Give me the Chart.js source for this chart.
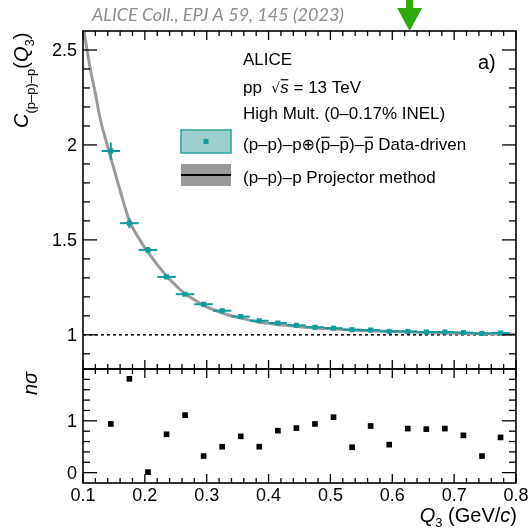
<!DOCTYPE html>
<html>
<head>
<meta charset="utf-8">
<script src="https://cdn.jsdelivr.net/npm/chart.js@4.4.1/dist/chart.umd.min.js"></script>
<style>
  body { margin: 0; background: #fff; }
  #wrap { position: relative; width: 529px; height: 530px; }
  #wrap canvas { position: absolute; left: 0; top: 0; }
</style>
</head>
<body>
<div id="wrap">
  <canvas id="corrChart" width="529" height="530"></canvas>
  <canvas id="sigmaChart" width="529" height="530"></canvas>
</div>
<script>
// bin centres in Q3 (GeV/c)
const q3Bins = [0.145, 0.175, 0.205, 0.235, 0.265, 0.295, 0.325, 0.355, 0.385, 0.415, 0.445,
                0.475, 0.505, 0.535, 0.565, 0.595, 0.625, 0.655, 0.685, 0.715, 0.745, 0.775];
const binHalfWidth = 0.015;
// data-driven correlation function
const corrData = [1.968, 1.588, 1.447, 1.305, 1.214, 1.161, 1.127, 1.096, 1.074, 1.062, 1.050,
                  1.040, 1.035, 1.027, 1.025, 1.018, 1.018, 1.015, 1.015, 1.012, 1.007, 1.010];
const corrErr = [0.045, 0.026, 0.016, 0.012, 0.009, 0.008, 0.007, 0.006, 0.006, 0.005, 0.005,
                 0.005, 0.005, 0.004, 0.004, 0.004, 0.004, 0.004, 0.004, 0.004, 0.004, 0.004];
// projector method curve
const projQ3 = [0.100, 0.1065, 0.113, 0.120, 0.127, 0.133, 0.140, 0.146, 0.160, 0.175, 0.190, 0.205,
                0.220, 0.235, 0.250, 0.265, 0.280, 0.295, 0.325, 0.355, 0.385, 0.415, 0.445, 0.475,
                0.505, 0.550, 0.600, 0.650, 0.700, 0.750, 0.800];
const projCorr = [2.64, 2.50, 2.38, 2.27, 2.15, 2.07, 1.99, 1.92, 1.76, 1.60, 1.51, 1.435,
                  1.37, 1.31, 1.26, 1.215, 1.185, 1.155, 1.115, 1.088, 1.068, 1.054, 1.044, 1.036,
                  1.030, 1.023, 1.017, 1.012, 1.008, 1.005, 1.003];
// deviation in n sigma
const nSigma = [0.94, 1.81, 0.01, 0.74, 1.11, 0.32, 0.50, 0.70, 0.50, 0.81, 0.86,
                0.94, 1.07, 0.49, 0.90, 0.54, 0.85, 0.84, 0.85, 0.72, 0.32, 0.68];
const xTickLabels = ['0.1', '0.2', '0.3', '0.4', '0.5', '0.6', '0.7', '0.8'];
const yTickLabelsTop = ['1', '1.5', '2', '2.5'];
const yTickLabelsBottom = ['0', '1'];
const arrowQ3 = 0.628;

const TEAL = '#129b9b';
const FONT = '"Liberation Sans", Arial, sans-serif';

function fontOf(p) {
  return (p.italic ? 'italic ' : '') + p.size + 'px ' + (p.family || FONT);
}

// draws a row of text pieces (sub/superscripts, overlines)
function richText(ctx, parts, x, y, align) {
  let w = 0;
  parts.forEach(p => { ctx.font = fontOf(p); p.w = ctx.measureText(p.t).width; w += p.w; });
  let cx = align === 'right' ? x - w : x;
  parts.forEach(p => {
    ctx.font = fontOf(p);
    ctx.fillText(p.t, cx, y + (p.dy || 0));
    if (p.bar) {
      ctx.save();
      ctx.lineWidth = 1.2;
      ctx.strokeStyle = ctx.fillStyle;
      ctx.beginPath();
      const by = y + (p.dy || 0) - p.size * p.bar;
      ctx.moveTo(cx + 0.5, by);
      ctx.lineTo(cx + p.w - 0.5, by);
      ctx.stroke();
      ctx.restore();
    }
    cx += p.w;
  });
}

function line(ctx, x1, y1, x2, y2) {
  ctx.beginPath(); ctx.moveTo(x1, y1); ctx.lineTo(x2, y2); ctx.stroke();
}

// ROOT style frame with inward ticks on all sides
function drawFrame(chart, yStep, yMajorEvery, xTop, xBottom) {
  const ctx = chart.ctx, a = chart.chartArea;
  const xs = chart.scales.x, ys = chart.scales.y;
  ctx.save();
  ctx.strokeStyle = '#000';
  ctx.lineWidth = 1.6;
  ctx.strokeRect(a.left, a.top, a.right - a.left, a.bottom - a.top);
  ctx.lineWidth = 1.3;
  for (let i = 0; i <= 35; i++) {
    const v = 0.1 + i * 0.02;
    const major = i % 5 === 0;
    const px = xs.getPixelForValue(v);
    if (xTop) line(ctx, px, a.top, px, a.top + (major ? 9 : 5));
    if (xBottom) line(ctx, px, a.bottom, px, a.bottom - (major ? 9 : 5));
  }
  const start = Math.ceil(ys.min / yStep - 1e-6);
  const end = Math.floor(ys.max / yStep + 1e-6);
  for (let i = start; i <= end; i++) {
    const py = ys.getPixelForValue(i * yStep);
    if (py < a.top + 1 || py > a.bottom - 1) continue;
    const len = i % yMajorEvery === 0 ? 14 : 7;
    line(ctx, a.left, py, a.left + len, py);
    line(ctx, a.right, py, a.right - len, py);
  }
  ctx.restore();
}

const corrPlugin = {
  id: 'corrDecor',
  beforeDatasetsDraw(chart) {
    const ctx = chart.ctx, a = chart.chartArea, ys = chart.scales.y;
    const py = ys.getPixelForValue(1);
    ctx.save();
    ctx.strokeStyle = '#000';
    ctx.lineWidth = 1.5;
    ctx.setLineDash([3, 3]);
    line(ctx, a.left, py, a.right, py);
    ctx.restore();
  },
  afterDatasetsDraw(chart) {
    const ctx = chart.ctx, xs = chart.scales.x, ys = chart.scales.y;
    ctx.save();
    ctx.strokeStyle = TEAL;
    ctx.lineWidth = 2;
    q3Bins.forEach((q, i) => {
      const px = xs.getPixelForValue(q), py = ys.getPixelForValue(corrData[i]);
      line(ctx, xs.getPixelForValue(q - binHalfWidth), py, xs.getPixelForValue(q + binHalfWidth), py);
      line(ctx, px, ys.getPixelForValue(corrData[i] - corrErr[i]), px, ys.getPixelForValue(corrData[i] + corrErr[i]));
    });
    ctx.restore();
  },
  afterDraw(chart) {
    const ctx = chart.ctx, a = chart.chartArea, xs = chart.scales.x, ys = chart.scales.y;
    drawFrame(chart, 0.1, 5, true, true);
    ctx.save();
    ctx.fillStyle = '#000';
    // y tick labels
    ctx.font = '18px ' + FONT;
    ctx.textAlign = 'right';
    ctx.textBaseline = 'middle';
    yTickLabelsTop.forEach(t => ctx.fillText(t, 77, ys.getPixelForValue(parseFloat(t)) + 1));
    ctx.textAlign = 'left';
    ctx.textBaseline = 'alphabetic';

    // y title
    ctx.save();
    ctx.translate(28, 128);
    ctx.rotate(-Math.PI / 2);
    richText(ctx, [
      { t: 'C', size: 20, italic: true },
      { t: '(p–p)–p', size: 13, dy: 7 },
      { t: '(', size: 20 },
      { t: 'Q', size: 20, italic: true },
      { t: '3', size: 13, dy: 6 },
      { t: ')', size: 20 }
    ], 0, 0);
    ctx.restore();

    // text block
    ctx.font = '17px ' + FONT;
    ctx.fillText('ALICE', 243, 65);
    richText(ctx, [
      { t: 'pp  ', size: 17 },
      { t: '√', size: 14, family: '"DejaVu Sans", sans-serif' },
      { t: 's', size: 17, italic: true, bar: 0.78 },
      { t: ' = 13 TeV', size: 17 }
    ], 243, 93);
    ctx.font = '17px ' + FONT;
    ctx.fillText('High Mult. (0–0.17% INEL)', 243, 118.5);
    richText(ctx, [
      { t: '(p–p)–p', size: 17 },
      { t: '⊕', size: 16, family: '"DejaVu Sans", sans-serif' },
      { t: '(', size: 17 },
      { t: 'p', size: 17, bar: 0.72 },
      { t: '–', size: 17 },
      { t: 'p', size: 17, bar: 0.72 },
      { t: ')–', size: 17 },
      { t: 'p', size: 17, bar: 0.72 },
      { t: ' Data-driven', size: 17 }
    ], 243, 149.5);
    ctx.font = '17px ' + FONT;
    ctx.fillText('(p–p)–p Projector method', 243, 183);
    ctx.font = '20px ' + FONT;
    ctx.fillText('a)', 478, 69);

    // legend symbols
    ctx.fillStyle = '#9dcfcd';
    ctx.fillRect(181, 130, 50, 23);
    ctx.strokeStyle = '#2aa39f';
    ctx.lineWidth = 1.5;
    ctx.strokeRect(181, 130, 50, 23);
    ctx.fillStyle = TEAL;
    ctx.fillRect(203.5, 139, 5, 5);
    ctx.fillStyle = '#9a9a9a';
    ctx.fillRect(181, 164, 50, 22);
    ctx.strokeStyle = '#000';
    ctx.lineWidth = 2;
    line(ctx, 181, 175, 231, 175);

    // publication note
    ctx.fillStyle = '#8c8c8c';
    ctx.font = 'italic 18px Lato, "Open Sans", sans-serif';
    const tw = ctx.measureText('ALICE Coll., EPJ A 59, 145 (2023)').width;
    ctx.save();
    ctx.translate(92, 21);
    ctx.scale(252 / tw, 1);
    ctx.fillText('ALICE Coll., EPJ A 59, 145 (2023)', 0, 0);
    ctx.restore();

    // green arrow
    const ax = xs.getPixelForValue(arrowQ3);
    ctx.fillStyle = '#2eaa0c';
    ctx.beginPath();
    ctx.moveTo(ax - 3.5, 0);
    ctx.lineTo(ax + 3.5, 0);
    ctx.lineTo(ax + 3.5, 8);
    ctx.lineTo(ax + 12.5, 8);
    ctx.lineTo(ax, a.top);
    ctx.lineTo(ax - 12.5, 8);
    ctx.lineTo(ax - 3.5, 8);
    ctx.closePath();
    ctx.fill();
    ctx.restore();
  }
};

const sigmaPlugin = {
  id: 'sigmaDecor',
  afterDraw(chart) {
    const ctx = chart.ctx, a = chart.chartArea, xs = chart.scales.x, ys = chart.scales.y;
    drawFrame(chart, 0.2, 5, true, true);
    ctx.save();
    ctx.fillStyle = '#000';
    ctx.font = '18px ' + FONT;
    ctx.textAlign = 'right';
    ctx.textBaseline = 'middle';
    yTickLabelsBottom.forEach(t => ctx.fillText(t, 77, ys.getPixelForValue(parseFloat(t)) + 1));
    ctx.textAlign = 'center';
    ctx.textBaseline = 'alphabetic';
    xTickLabels.forEach(t => ctx.fillText(t, xs.getPixelForValue(parseFloat(t)), a.bottom + 17.5));
    ctx.textAlign = 'left';
    richText(ctx, [
      { t: 'Q', size: 20, italic: true },
      { t: '3', size: 13, dy: 5 },
      { t: ' (GeV/', size: 20 },
      { t: 'c', size: 20, italic: true },
      { t: ')', size: 20 }
    ], 517, 522, 'right');
    ctx.save();
    ctx.translate(37, 395);
    ctx.rotate(-Math.PI / 2);
    richText(ctx, [{ t: 'nσ', size: 20, italic: true }], 0, 0);
    ctx.restore();
    ctx.restore();
  }
};

new Chart(document.getElementById('corrChart').getContext('2d'), {
  type: 'scatter',
  data: {
    datasets: [{
      label: 'Data-driven',
      data: q3Bins.map((q, i) => ({ x: q, y: corrData[i] })),
      pointStyle: 'rect',
      pointRadius: 3.6,
      backgroundColor: TEAL,
      borderWidth: 0
    }, {
      type: 'line',
      label: 'Projector method',
      data: projQ3.map((q, i) => ({ x: q, y: projCorr[i] })),
      borderColor: '#9b9b9b',
      borderWidth: 3,
      pointRadius: 0,
      cubicInterpolationMode: 'monotone',
      fill: false
    }]
  },
  options: {
    responsive: false,
    animation: false,
    layout: { padding: { left: 83, right: 13, top: 31, bottom: 161 } },
    scales: {
      x: { type: 'linear', min: 0.1, max: 0.8, display: false },
      y: { type: 'linear', min: 0.82, max: 2.6, display: false }
    },
    plugins: { legend: { display: false }, tooltip: { enabled: false } }
  },
  plugins: [corrPlugin]
});

new Chart(document.getElementById('sigmaChart').getContext('2d'), {
  type: 'scatter',
  data: {
    datasets: [{
      label: 'n sigma',
      data: q3Bins.map((q, i) => ({ x: q, y: nSigma[i] })),
      pointStyle: 'rect',
      pointRadius: 4,
      backgroundColor: '#000',
      borderWidth: 0
    }]
  },
  options: {
    responsive: false,
    animation: false,
    layout: { padding: { left: 83, right: 13, top: 369, bottom: 47 } },
    scales: {
      x: { type: 'linear', min: 0.1, max: 0.8, display: false },
      y: { type: 'linear', min: -0.2, max: 2.0, display: false }
    },
    plugins: { legend: { display: false }, tooltip: { enabled: false } }
  },
  plugins: [sigmaPlugin]
});
</script>
</body>
</html>
